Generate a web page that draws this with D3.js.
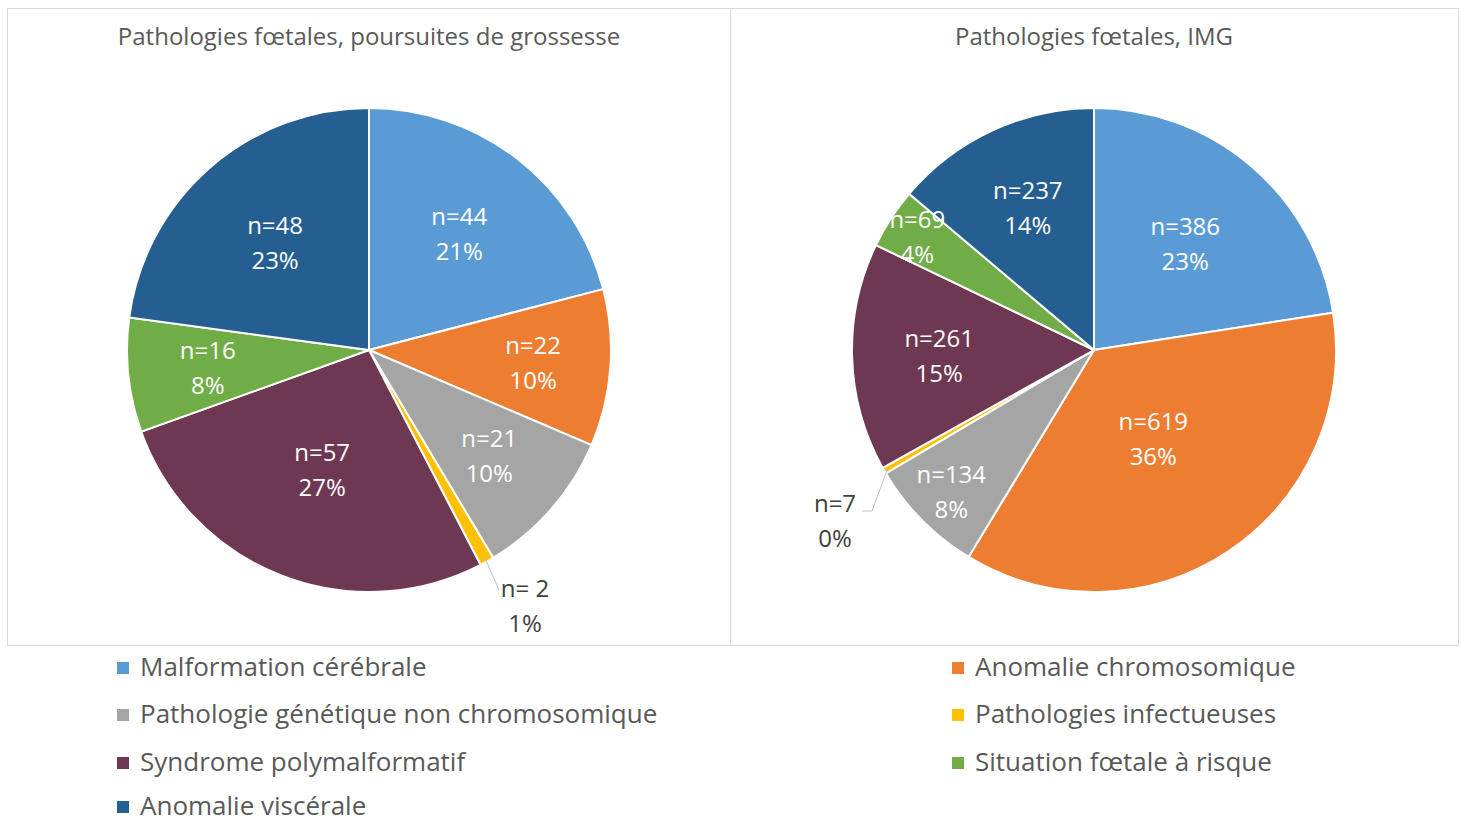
<!DOCTYPE html>
<html><head><meta charset="utf-8">
<script src="https://cdn.jsdelivr.net/npm/d3@7"></script>
<style>body{margin:0;background:#fff}svg{display:block}</style>
</head><body><svg id="c" width="1461" height="823"></svg>
<script>
const categories = ["Malformation cérébrale","Anomalie chromosomique","Pathologie génétique non chromosomique","Pathologies infectueuses","Syndrome polymalformatif","Situation fœtale à risque","Anomalie viscérale"];
const colors = ["#5B9BD5","#ED7D31","#A5A5A5","#FFC000","#6E3752","#70AD47","#255E91"];
const leftTitle = "Pathologies fœtales, poursuites de grossesse";
const rightTitle = "Pathologies fœtales, IMG";
const leftValues = [44,22,21,2,57,16,48];
const leftNLabels = ["n=44","n=22","n=21","n= 2","n=57","n=16","n=48"];
const leftPct = ["21%","10%","10%","1%","27%","8%","23%"];
const rightValues = [386,619,134,7,261,69,237];
const rightNLabels = ["n=386","n=619","n=134","n=7","n=261","n=69","n=237"];
const rightPct = ["23%","36%","8%","0%","15%","4%","14%"];
// layout: label radius as fraction of pie radius (null = outside label)
const leftLabelR = [0.61,0.68,0.66,null,0.53,0.67,0.59];
const rightLabelR = [0.58,0.44,0.83,null,0.64,0.87,0.65];

const svg = d3.select("#c");
const FONT = "'Open Sans', 'Liberation Sans', Arial, sans-serif";

function panel(x0,x1,title,values,nl,pl,lr,cx,outside){
  svg.append("rect").attr("x",x0+0.5).attr("y",8.5).attr("width",x1-x0).attr("height",637)
    .attr("fill","#fff").attr("stroke","#D9D9D9");
  svg.append("text").attr("x",cx).attr("y",45).attr("text-anchor","middle")
    .attr("font-family",FONT).attr("font-size",24).attr("fill","#595959").text(title);
  const R=242, cy=350;
  const g=svg.append("g").attr("transform",`translate(${cx},${cy})`);
  const pie=d3.pie().sort(null).value(d=>d)(values);
  const arc=d3.arc().innerRadius(0).outerRadius(R);
  g.selectAll("path.s").data(pie).join("path").attr("class","s").attr("d",arc)
    .attr("fill",(d,i)=>colors[i]).attr("stroke","#fff").attr("stroke-width",2);
  pie.forEach((d,i)=>{
    const a=(d.startAngle+d.endAngle)/2;
    if(lr[i]!==null){
      const r=R*lr[i];
      const x=Math.sin(a)*r, y=-Math.cos(a)*r;
      const t=g.append("text").attr("text-anchor","middle").attr("font-family",FONT)
        .attr("font-size",24).attr("fill","#fff");
      t.append("tspan").attr("x",x).attr("y",y-8).text(nl[i]);
      t.append("tspan").attr("x",x).attr("y",y+27).text(pl[i]);
    } else {
      const p0=[Math.sin(a)*(R-4),-Math.cos(a)*(R-4)];
      const o=outside;
      svg.append("polyline").attr("points",[[cx+p0[0],cy+p0[1]],...o.line].map(p=>p.join(",")).join(" "))
        .attr("fill","none").attr("stroke",o.stroke).attr("stroke-width",1);
      const t=svg.append("text").attr("text-anchor","middle").attr("font-family",FONT)
        .attr("font-size",24).attr("fill","#404040");
      t.append("tspan").attr("x",o.x).attr("y",o.y).text(nl[i]);
      t.append("tspan").attr("x",o.x).attr("y",o.y+35).text(pl[i]);
    }
  });
}
panel(7,730,leftTitle,leftValues,leftNLabels,leftPct,leftLabelR,369,
  {x:525,y:597,line:[[499,590]],stroke:"#A9C6E8"});
panel(730,1458,rightTitle,rightValues,rightNLabels,rightPct,rightLabelR,1094,
  {x:835,y:512,line:[[872,511],[862,511]],stroke:"#BFBFBF"});

// legend
const legendPos = [[0,0],[1,0],[0,1],[1,1],[0,2],[1,2],[0,3]];
const colX=[117,952], rowY=[668,715,763,807];
categories.forEach((c,i)=>{
  const [col,row]=legendPos[i];
  svg.append("rect").attr("x",colX[col]).attr("y",rowY[row]-6).attr("width",12).attr("height",12).attr("fill",colors[i]);
  svg.append("text").attr("x",colX[col]+23).attr("y",rowY[row]+8).attr("font-family",FONT)
    .attr("font-size",26).attr("fill","#595959").text(c);
});
</script></body></html>
